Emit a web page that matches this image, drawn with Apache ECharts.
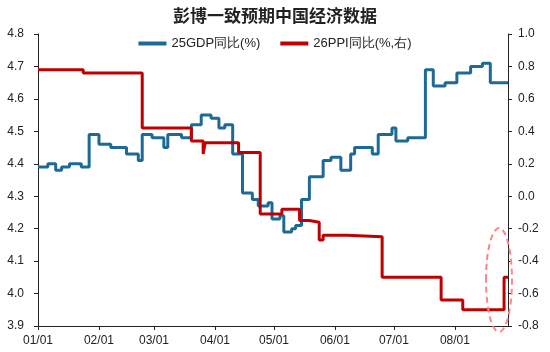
<!DOCTYPE html>
<html>
<head>
<meta charset="utf-8">
<script src="https://cdn.jsdelivr.net/npm/echarts@6/dist/echarts.min.js"></script>
<style>
  html, body { margin: 0; padding: 0; background: #fff; }
  #chart { width: 550px; height: 352px; }
</style>
</head>
<body>
<div id="chart"></div>
<script>
// 日期：2025-01-01 ~ 2025-08-28
const monthDays = [31, 28, 31, 30, 31, 30, 31, 28];
const days = [];
monthDays.forEach((n, m) => {
  for (let d = 1; d <= n; d++) {
    days.push(String(m + 1).padStart(2, '0') + '/' + String(d).padStart(2, '0'));
  }
});

// 25GDP同比 变动点
const gdpDates = ['01/01','01/06','01/10','01/13','01/17','01/23','01/27','02/01','02/07','02/15',
  '02/21','02/23','02/28','03/06','03/08','03/15','03/20','03/25','03/30','04/03',
  '04/06','04/10','04/15','04/20','04/23','04/28','04/30','05/04','05/06','05/10',
  '05/12','05/15','05/19','05/26','05/30','06/04','06/09','06/11','06/20','06/23',
  '06/30','07/02','07/08','07/17','07/21','07/27','08/02','08/09','08/15','08/19','08/28'];
const gdpVals = [4.39,4.40,4.38,4.39,4.40,4.39,4.49,4.46,4.45,4.43,
  4.41,4.49,4.48,4.45,4.49,4.48,4.52,4.55,4.54,4.51,
  4.52,4.43,4.31,4.29,4.27,4.28,4.23,4.24,4.19,4.20,
  4.21,4.29,4.36,4.41,4.42,4.38,4.43,4.45,4.43,4.49,
  4.51,4.47,4.48,4.69,4.64,4.65,4.68,4.70,4.71,4.65,4.65];

// 26PPI同比 变动点（右轴）
const ppiDates = ['01/01','01/24','02/23','03/20','03/26','03/27','04/13','04/24','05/05','05/14',
  '05/19','05/24','05/26','06/07','06/25','07/25','08/05','08/26','08/28'];
const ppiVals = [0.78,0.76,0.42,0.34,0.26,0.33,0.27,-0.11,-0.08,-0.15,
  -0.16,-0.27,-0.24,-0.25,-0.50,-0.64,-0.70,-0.50,-0.50];

const chart = echarts.init(document.getElementById('chart'));
const axisColor = '#222';
const font = 'Liberation Sans, Arial, sans-serif';

const option = {
  animation: false,
  title: {
    text: '彭博一致预期中国经济数据',
    left: 'center',
    top: 2,
    textStyle: { fontSize: 17, fontWeight: 'bold', color: '#222', fontFamily: 'Noto Sans CJK SC' }
  },
  legend: {
    top: 32,
    left: 'center',
    itemWidth: 28,
    itemHeight: 4,
    itemGap: 20,
    icon: 'rect',
    textStyle: { fontSize: 13, color: '#222', fontFamily: font },
    data: ['25GDP同比(%)', '26PPI同比(%,右)']
  },
  grid: { left: 38, right: 42, top: 34, bottom: 26 },
  xAxis: {
    type: 'category',
    data: days,
    boundaryGap: false,
    axisLine: { onZero: false, lineStyle: { color: axisColor } },
    axisTick: {
      length: 4,
      interval: (i, v) => v.endsWith('/01'),
      lineStyle: { color: axisColor }
    },
    axisLabel: {
      interval: (i, v) => v.endsWith('/01'),
      color: '#222', fontSize: 12, fontFamily: font, margin: 9
    }
  },
  yAxis: [{
    type: 'value',
    min: 3.9, max: 4.8, interval: 0.1,
    splitLine: { show: false },
    axisLine: { show: true, lineStyle: { color: axisColor } },
    axisTick: { show: true, length: 4, lineStyle: { color: axisColor } },
    axisLabel: { color: '#222', fontSize: 12, fontFamily: font, margin: 14,
      formatter: v => v.toFixed(1) }
  }, {
    type: 'value',
    min: -0.8, max: 1.0, interval: 0.2,
    splitLine: { show: false },
    axisLine: { show: true, lineStyle: { color: axisColor } },
    axisTick: { show: true, length: 4, lineStyle: { color: axisColor } },
    axisLabel: { color: '#222', fontSize: 12, fontFamily: font, margin: 10,
      formatter: v => v.toFixed(1) }
  }],
  series: [{
    name: '25GDP同比(%)',
    type: 'line',
    step: 'end',
    yAxisIndex: 0,
    showSymbol: false,
    lineStyle: { width: 3, color: '#1d6a97' },
    itemStyle: { color: '#1d6a97' },
    data: gdpDates.map((d, i) => [d, gdpVals[i]])
  }, {
    name: '26PPI同比(%,右)',
    type: 'line',
    step: 'end',
    yAxisIndex: 1,
    showSymbol: false,
    lineStyle: { width: 3, color: '#c00000' },
    itemStyle: { color: '#c00000' },
    data: ppiDates.map((d, i) => [d, ppiVals[i]])
  }],
  graphic: [{
    type: 'ellipse',
    shape: { cx: 499, cy: 280, rx: 13, ry: 52 },
    style: { fill: 'none', stroke: '#ff8585', lineWidth: 2, lineDash: [6, 4] },
    z: 100
  }]
};

chart.setOption(option);
</script>
</body>
</html>
